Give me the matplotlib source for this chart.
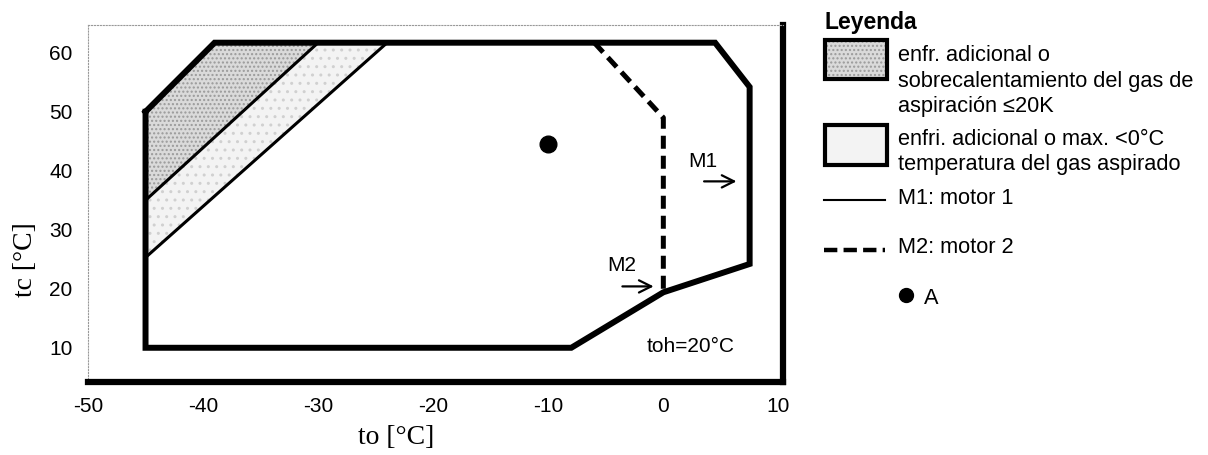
import matplotlib
matplotlib.use("Agg")
import matplotlib.pyplot as plt
from matplotlib.patches import Polygon, Rectangle
from matplotlib.lines import Line2D

plt.rcParams['font.family'] = ['Liberation Sans', 'DejaVu Sans']
plt.rcParams['axes.unicode_minus'] = False

# envelope (M1) outline
env_to = [-45, -39, 4.5, 7.5, 7.5, 0, -8, -45, -45]
env_tc = [50, 61.7, 61.7, 54.2, 24.2, 19.4, 10, 10, 50]
# M2 limit (dashed)
m2_to = [-6, 0, 0]
m2_tc = [61.7, 49, 19.4]
# inner limit lines
lim1_to = [-45, -30]
lim1_tc = [35, 61.7]
lim2_to = [-45, -24]
lim2_tc = [25.3, 61.7]
# shaded zones
zone1_to = [-45, -45, -39, -30]
zone1_tc = [35, 50, 61.7, 61.7]
zone2_to = [-45, -45, -30, -24]
zone2_tc = [25.3, 35, 61.7, 61.7]
# point A
a_to = [-10]
a_tc = [44.6]

xticks = [-50, -40, -30, -20, -10, 0, 10]
yticks = [10, 20, 30, 40, 50, 60]

W, H = 1208, 455
fig = plt.figure(figsize=(W / 100, H / 100), dpi=100)
ax = fig.add_axes([88 / W, 1 - 382 / H, 695 / W, 357 / H])

ax.add_patch(Polygon(list(zip(zone1_to, zone1_tc)), closed=True, facecolor='#dadada',
                     edgecolor='#9a9a9a', hatch='....', linewidth=0, zorder=1))
ax.add_patch(Polygon(list(zip(zone2_to, zone2_tc)), closed=True, facecolor='#f3f3f3',
                     edgecolor='#d0d0d0', hatch='..', linewidth=0, zorder=1))

ax.plot(lim1_to, lim1_tc, color='black', lw=2.2, zorder=2)
ax.plot(lim2_to, lim2_tc, color='black', lw=2.2, zorder=2)
ax.plot(env_to, env_tc, color='black', lw=4.3, solid_joinstyle='miter', zorder=3)
ax.plot(m2_to, m2_tc, color='black', lw=3.6, dashes=(2.6, 1.4), zorder=3)
ax.plot(a_to, a_tc, 'o', color='black', markersize=12, zorder=4)

ax.text(3.4, 41.5, 'M1', fontsize=15, ha='center', va='center')
ax.annotate('', xy=(6.6, 38.2), xytext=(3.3, 38.2),
            arrowprops=dict(arrowstyle='->', color='black', lw=1.6, mutation_scale=22))
ax.text(-3.6, 23.9, 'M2', fontsize=15, ha='center', va='center')
ax.annotate('', xy=(-0.6, 20.4), xytext=(-3.8, 20.4),
            arrowprops=dict(arrowstyle='->', color='black', lw=1.6, mutation_scale=22))
ax.text(2.4, 10.2, 'toh=20°C', fontsize=15, ha='center', va='center')

ax.set_xlim(-50, 10.4)
ax.set_ylim(4.2, 64.7)
ax.set_xticks(xticks)
ax.set_yticks(yticks)
ax.tick_params(length=0, labelsize=15)
ax.tick_params(axis='x', pad=11)
ax.tick_params(axis='y', pad=11)
ax.spines['bottom'].set_linewidth(4.5)
ax.spines['right'].set_linewidth(4.5)
for s in ['top', 'left']:
    ax.spines[s].set_linewidth(0.8)
    ax.spines[s].set_linestyle(':')
    ax.spines[s].set_color('#999999')

fig.text(396 / W, 1 - 438 / H, 'to [°C]', family='Liberation Serif', fontsize=20,
         ha='center', va='center')
fig.text(26 / W, 1 - 260 / H, 'tc [°C]', family='Liberation Serif', fontsize=20,
         rotation=90, ha='center', va='center')

# legend, drawn by hand in figure pixels
def fx(x):
    return x / W

def fy(y):
    return 1 - y / H

fig.text(fx(825), fy(22), 'Leyenda', fontsize=16.5, fontweight='bold', va='center')
fig.add_artist(Rectangle((fx(825), fy(79)), 62 / W, 39 / H, facecolor='#dadada',
                         edgecolor='#9a9a9a', hatch='....', linewidth=0, transform=fig.transFigure))
fig.add_artist(Rectangle((fx(825), fy(79)), 62 / W, 39 / H, facecolor='none',
                         edgecolor='black', linewidth=3, transform=fig.transFigure))
fig.text(fx(898), fy(81), 'enfr. adicional o\nsobrecalentamiento del gas de\naspiración ≤20K',
         fontsize=15.7, va='center', linespacing=1.3)
fig.add_artist(Rectangle((fx(825), fy(165)), 62 / W, 40 / H, facecolor='#f3f3f3',
                         edgecolor='black', linewidth=3, transform=fig.transFigure))
fig.text(fx(898), fy(152), 'enfri. adicional o max. <0°C\ntemperatura del gas aspirado',
         fontsize=15.7, va='center', linespacing=1.3)
fig.add_artist(Line2D([fx(824), fx(885)], [fy(200), fy(200)], color='black', lw=1.5,
                      transform=fig.transFigure))
fig.text(fx(898), fy(198), 'M1: motor 1', fontsize=15.7, va='center')
fig.add_artist(Line2D([fx(824), fx(885)], [fy(250), fy(250)], color='black', lw=3.2,
                      dashes=(3, 1.4), transform=fig.transFigure))
fig.text(fx(898), fy(248), 'M2: motor 2', fontsize=15.7, va='center')
fig.add_artist(Line2D([fx(906)], [fy(295)], marker='o', color='black', markersize=10,
                      transform=fig.transFigure))
fig.text(fx(924), fy(298), 'A', fontsize=15.7, va='center')

fig.savefig('out.png', dpi=100)
